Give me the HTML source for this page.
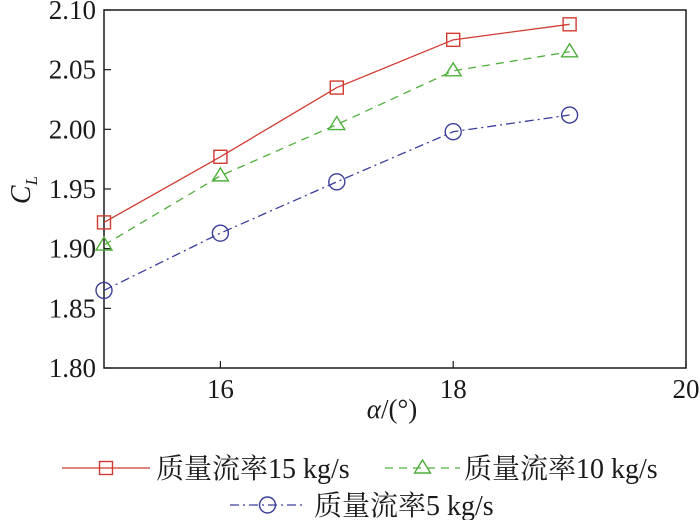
<!DOCTYPE html>
<html><head><meta charset="utf-8"><style>
html,body{margin:0;padding:0;background:#fff;width:700px;height:520px;overflow:hidden}
svg text{font-family:"Liberation Serif","Noto Serif CJK SC",serif;fill:#1a1a1a}
</style></head><body>
<svg id="chart" width="700" height="520"></svg>
<script>
const xCats = [15, 16, 17, 18, 19];
const series15 = [1.922, 1.977, 2.035, 2.075, 2.088];
const series10 = [1.903, 1.961, 2.004, 2.049, 2.065];
const series5 = [1.865, 1.913, 1.956, 1.998, 2.012];
const xTicks = [16, 18, 20];
const yTicks = [1.80, 1.85, 1.90, 1.95, 2.00, 2.05, 2.10];
const seriesNames = ["质量流率15 kg/s", "质量流率10 kg/s", "质量流率5 kg/s"];

const L=104,R=686,T=10,B=368;
const xs=v=>L+(v-15)/(20-15)*(R-L);
const ys=v=>B-(v-1.8)/(2.1-1.8)*(B-T);
const svg=document.getElementById('chart');
const NS='http://www.w3.org/2000/svg';
function mk(tag,attrs,parent){const e=document.createElementNS(NS,tag);for(const k in attrs)e.setAttribute(k,attrs[k]);(parent||svg).appendChild(e);return e;}

const frame=mk('rect',{x:L,y:T,width:R-L,height:B-T,fill:'none',stroke:'#1a1a1a','stroke-width':1.5});



yTicks.forEach(v=>{
  const t=mk('line',{x1:L,x2:L+7,y1:ys(v),y2:ys(v),stroke:'#1a1a1a','stroke-width':1.2});
  
  
  const lb=mk('text',{x:L-8,y:ys(v)+9,'text-anchor':'end','font-size':27});
  lb.textContent=v.toFixed(2);
  
  
});
xTicks.forEach(v=>{
  const t=mk('line',{x1:xs(v),x2:xs(v),y1:B,y2:B-7,stroke:'#1a1a1a','stroke-width':1.2});
  
  
  const lb=mk('text',{x:xs(v),y:B+30,'text-anchor':'middle','font-size':27});
  lb.textContent=v;
  
  
});

const xt=mk('text',{x:392,y:418,'text-anchor':'middle','font-size':27});
xt.innerHTML='<tspan font-style="italic">α</tspan>/(°)';


const yt=mk('text',{transform:'translate(30,190) rotate(-90)','text-anchor':'middle','font-size':28,'font-style':'italic'});
yt.innerHTML='C<tspan font-size="17" dy="7">L</tspan>';



const styles=[
 {c:'#d03a30',dash:'',m:'square'},
 {c:'#4db03a',dash:'8,6',m:'triangle'},
 {c:'#3a3d9a',dash:'9,4,2,4',m:'circle'}];
function marker(type,x,y,c,g){
  if(type==='square')return mk('rect',{x:x-6.5,y:y-6.5,width:13,height:13,fill:'none',stroke:c,'stroke-width':1.4},g);
  if(type==='triangle')return mk('polygon',{points:`${x},${y-8} ${x-8},${y+5} ${x+8},${y+5}`,fill:'none',stroke:c,'stroke-width':1.4},g);
  return mk('circle',{cx:x,cy:y,r:8,fill:'none',stroke:c,'stroke-width':1.4},g);
}
[series15,series10,series5].forEach((s,i)=>{
  const st=styles[i];
  const g=mk('g',{});
  
  
  const ln=mk('polyline',{points:s.map((v,j)=>xs(xCats[j])+','+ys(v)).join(' '),fill:'none',stroke:st.c,'stroke-width':1.3,'stroke-dasharray':st.dash},g);
  
  
  s.forEach((v,j)=>{
    const m=marker(st.m,xs(xCats[j]),ys(v),st.c,g);
    
    
  });
});

const leg=[{x1:62,x2:150,y:468,tx:156},{x1:385,x2:460,y:468,tx:464},{x1:230,x2:305,y:505,tx:314}];
leg.forEach((p,i)=>{
  const st=styles[i];
  const g=mk('g',{});
  
  
  mk('line',{x1:p.x1,x2:p.x2,y1:p.y,y2:p.y,stroke:st.c,'stroke-width':1.3,'stroke-dasharray':st.dash},g);
  marker(st.m,(p.x1+p.x2)/2,p.y,st.c,g);
  const t=mk('text',{x:p.tx,y:p.y+10,'font-size':28},g);
  t.textContent=seriesNames[i];
});
</script>
</body></html>
